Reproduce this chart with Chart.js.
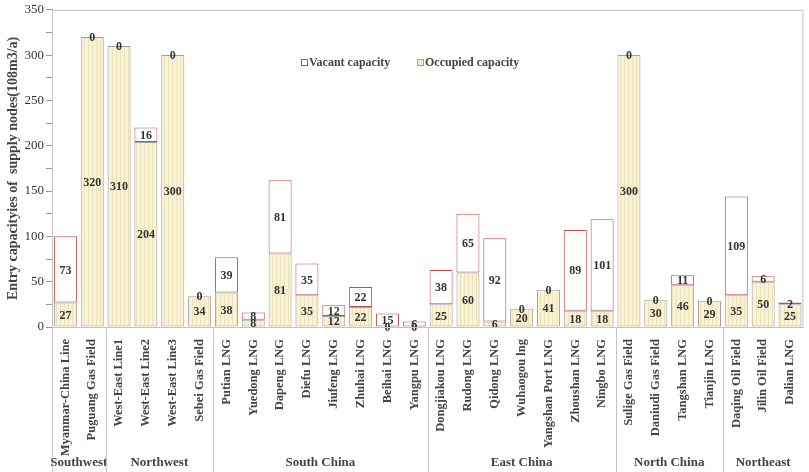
<!DOCTYPE html>
<html>
<head>
<meta charset="utf-8">
<script src="https://cdn.jsdelivr.net/npm/chart.js@4"></script>
<style>
  html, body { margin: 0; padding: 0; background: #fff; }
  #wrap { width: 809px; height: 472px; }
</style>
</head>
<body>
<div id="wrap"><canvas id="chart"></canvas></div>
<script>
// categories (supply nodes), in drawing order
const nodes = [
  'Myanmar-China Line', 'Puguang Gas Field',
  'West-East Line1', 'West-East Line2', 'West-East Line3', 'Sebei Gas Field',
  'Putian LNG', 'Yuedong LNG', 'Dapeng LNG', 'Diefu LNG', 'Jiufeng LNG', 'Zhuhai LNG', 'Beihai LNG', 'Yangpu LNG',
  'Dongjiakou LNG', 'Rudong LNG', 'Qidong LNG', 'Wuhaogou lng', 'Yangshan Port LNG', 'Zhoushan LNG', 'Ningbo LNG',
  'Sulige Gas Field', 'Daniudi Gas Field', 'Tangshan LNG', 'Tianjin LNG',
  'Daqing Oil Field', 'Jilin Oil Field', 'Dalian LNG'
];
// regions and how many nodes each covers
const regions = ['Southwest', 'Northwest', 'South China', 'East China', 'North China', 'Northeast'];
const regionSizes = [2, 4, 8, 7, 4, 3];

const occupied = [27, 320, 310, 204, 300, 34, 38, 8, 81, 35, 12, 22, 0, 0, 25, 60, 6, 20, 41, 18, 18, 300, 30, 46, 29, 35, 50, 25];
const vacant   = [73, 0, 0, 16, 0, 0, 39, 8, 81, 35, 12, 22, 15, 6, 38, 65, 92, 0, 0, 89, 101, 0, 0, 11, 0, 109, 6, 2];

const serif = '"Liberation Serif", "Times New Roman", serif';

// pale yellow with faint vertical stripes for occupied capacity
const pc = document.createElement('canvas');
pc.width = 4; pc.height = 1;
const pctx = pc.getContext('2d');
pctx.fillStyle = '#f8f2d6';
pctx.fillRect(0, 0, 4, 1);
pctx.fillStyle = '#ece3ba';
pctx.fillRect(0, 0, 1, 1);
const ctx0 = document.getElementById('chart').getContext('2d');
const occFill = ctx0.createPattern(pc, 'repeat');

const redLine = '#c04e4c';
const greyLine = '#a0a0a0';

// value labels in the middle of each segment
const valueLabels = {
  id: 'valueLabels',
  afterDatasetsDraw(chart) {
    const ctx = chart.ctx;
    ctx.save();
    ctx.font = 'bold 12px ' + serif;
    ctx.fillStyle = '#333';
    ctx.textAlign = 'center';
    ctx.textBaseline = 'middle';
    chart.data.datasets.forEach((ds, di) => {
      chart.getDatasetMeta(di).data.forEach((el, i) => {
        const p = el.getProps(['x', 'y', 'base'], true);
        ctx.fillText(String(ds.data[i]), p.x, (p.y + p.base) / 2 + 1);
      });
    });
    ctx.restore();
  }
};

// frame, legend, region separators and region names
const decor = {
  id: 'decor',
  afterDraw(chart) {
    const ctx = chart.ctx;
    const a = chart.chartArea;
    const xs = chart.scales.x;
    ctx.save();
    ctx.strokeStyle = '#c4c4c4';
    ctx.lineWidth = 1;
    ctx.strokeRect(a.left + 0.5, a.top + 0.5, a.right - a.left - 1, a.bottom - a.top);

    // region separators below the axis
    const half = (xs.getPixelForValue(1) - xs.getPixelForValue(0)) / 2;
    let start = 0;
    ctx.font = 'bold 13px ' + serif;
    ctx.fillStyle = '#444';
    ctx.textAlign = 'center';
    ctx.textBaseline = 'middle';
    regions.forEach((r, k) => {
      const end = start + regionSizes[k] - 1;
      const x1 = xs.getPixelForValue(start) - half;
      const x2 = xs.getPixelForValue(end) + half;
      const xl = Math.round(x1) + 0.5;
      ctx.beginPath();
      ctx.moveTo(xl, a.bottom);
      ctx.lineTo(xl, chart.height);
      ctx.stroke();
      ctx.fillText(r, (x1 + x2) / 2, chart.height - 9);
      start = end + 1;
    });

    // legend inside the plot
    const lx = 301, ly = 63;
    ctx.lineWidth = 1;
    ctx.fillStyle = '#fff';
    ctx.strokeStyle = redLine;
    ctx.fillRect(lx, ly - 3, 6, 6);
    ctx.strokeRect(lx + 0.5, ly - 3.5, 6, 6);
    ctx.fillStyle = '#f2ebc6';
    ctx.strokeStyle = greyLine;
    ctx.fillRect(lx + 116, ly - 3, 6, 6);
    ctx.strokeRect(lx + 116.5, ly - 3.5, 6, 6);
    ctx.font = 'bold 12px ' + serif;
    ctx.fillStyle = '#444';
    ctx.textAlign = 'left';
    ctx.fillText('Vacant capacity', lx + 8, ly);
    ctx.fillText('Occupied capacity', lx + 124, ly);
    ctx.restore();
  }
};

new Chart(ctx0, {
  type: 'bar',
  data: {
    labels: nodes,
    datasets: [
      {
        label: 'Occupied capacity',
        data: occupied,
        backgroundColor: occFill,
        borderColor: greyLine,
        borderWidth: 1,
        borderSkipped: false,
        inflateAmount: 0,
        barThickness: 23
      },
      {
        label: 'Vacant capacity',
        data: vacant,
        backgroundColor: '#ffffff',
        borderColor: redLine,
        borderWidth: 1,
        borderSkipped: false,
        inflateAmount: 0,
        barThickness: 23
      }
    ]
  },
  options: {
    responsive: true,
    maintainAspectRatio: false,
    animation: false,
    layout: { padding: { top: 3, right: 1 } },
    plugins: {
      legend: { display: false },
      tooltip: { enabled: false }
    },
    scales: {
      x: {
        stacked: true,
        grid: { display: false },
        border: { color: '#c4c4c4' },
        ticks: {
          autoSkip: false,
          maxRotation: 90,
          minRotation: 90,
          padding: 4,
          color: '#444',
          font: { family: serif, size: 12.5, weight: 'bold' }
        },
        afterFit(s) { s.height = 145; }
      },
      y: {
        stacked: true,
        min: 0,
        max: 350,
        grid: { drawOnChartArea: false, tickLength: 6, color: '#999' },
        border: { color: '#999' },
        ticks: {
          stepSize: 25,
          padding: 2,
          color: '#333',
          font: { family: serif, size: 13 },
          callback: v => (v % 50 === 0 ? v : '')
        },
        title: {
          display: true,
          text: 'Entry capacityies of  supply nodes(108m3/a)',
          color: '#444',
          padding: { top: 5, bottom: 0 },
          font: { family: serif, size: 14, weight: 'bold' }
        },
        afterFit(s) { s.width = 52; }
      }
    }
  },
  plugins: [valueLabels, decor]
});
</script>
</body>
</html>
